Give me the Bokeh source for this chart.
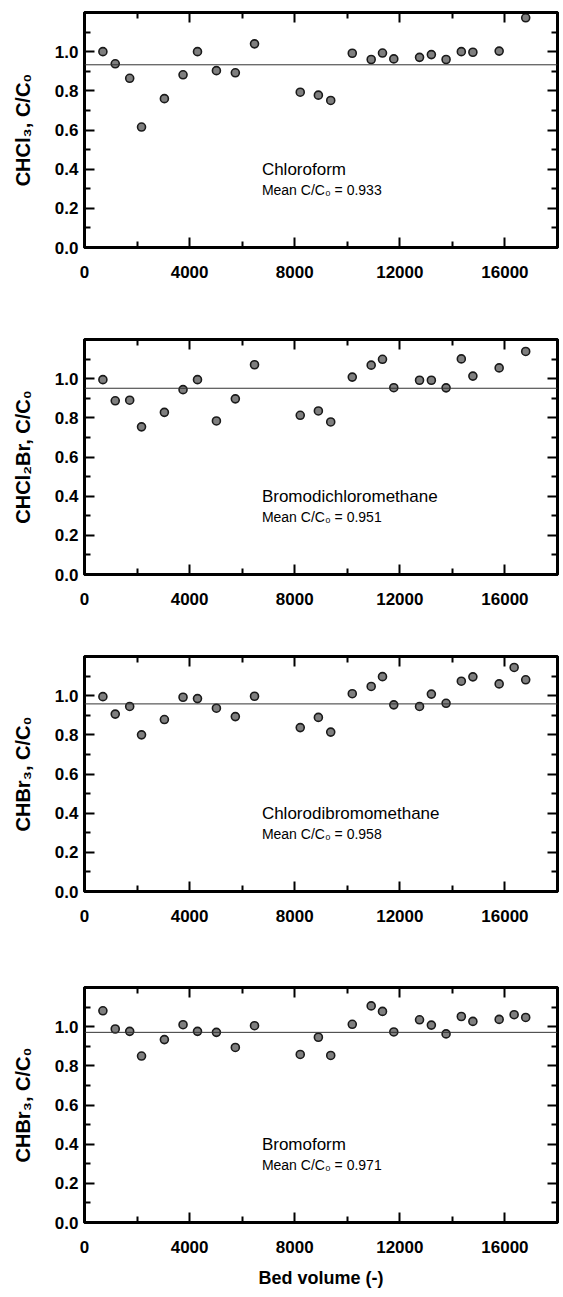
from bokeh.plotting import figure
from bokeh.models import FixedTicker, LinearAxis, Span, Label, Range1d
from bokeh.layouts import column
from bokeh.embed import file_html
from bokeh.resources import INLINE

# ---------------- data ----------------
bv_24 = [700, 1170, 1720, 2170, 3040, 3750, 4300, 5020, 5740, 6470, 8210, 8900,
         9370, 10190, 10910, 11340, 11770, 12750, 13200, 13760, 14340, 14780,
         15780, 16790]
bv_25 = [700, 1170, 1720, 2170, 3040, 3750, 4300, 5020, 5740, 6470, 8210, 8900,
         9370, 10190, 10910, 11340, 11770, 12750, 13200, 13760, 14340, 14780,
         15780, 16350, 16790]

chloroform = [1.00, 0.938, 0.864, 0.615, 0.760, 0.882, 1.00, 0.903, 0.892, 1.040,
              0.793, 0.778, 0.751, 0.992, 0.960, 0.993, 0.963, 0.971, 0.985, 0.960,
              1.00, 0.997, 1.003, 1.173]
bromodichloro = [0.995, 0.887, 0.890, 0.754, 0.828, 0.944, 0.995, 0.784, 0.897, 1.071,
                 0.813, 0.835, 0.779, 1.008, 1.069, 1.099, 0.954, 0.992, 0.992, 0.953,
                 1.101, 1.013, 1.055, 1.139]
chlorodibromo = [0.995, 0.906, 0.945, 0.800, 0.878, 0.992, 0.985, 0.936, 0.893, 0.997,
                 0.837, 0.889, 0.814, 1.010, 1.047, 1.097, 0.953, 0.945, 1.008, 0.961,
                 1.074, 1.096, 1.060, 1.144, 1.081]
bromoform = [1.081, 0.988, 0.976, 0.850, 0.934, 1.010, 0.976, 0.971, 0.894, 1.005,
             0.858, 0.946, 0.853, 1.012, 1.106, 1.078, 0.973, 1.035, 1.008, 0.963,
             1.052, 1.027, 1.037, 1.061, 1.047]

compound_names = ["Chloroform", "Bromodichloromethane", "Chlorodibromomethane", "Bromoform"]
y_labels = ["CHCl\u2083, C/C\u2080", "CHCl\u2082Br, C/C\u2080", "CHBr\u2083, C/C\u2080", "CHBr\u2083, C/C\u2080"]
mean_values = [0.933, 0.951, 0.958, 0.971]

x_ticks = [0, 4000, 8000, 12000, 16000]
x_minor = [2000, 6000, 10000, 14000, 18000]
y_ticks = [0.0, 0.2, 0.4, 0.6, 0.8, 1.0]
y_tick_labels = ["0.0", "0.2", "0.4", "0.6", "0.8", "1.0"]
y_minor = [0.1, 0.3, 0.5, 0.7, 0.9, 1.1]
x_label = "Bed volume (-)"

FONT = "Liberation Sans"


def style_axis(ax, labels):
    ax.axis_line_width = 3
    ax.axis_line_color = "black"
    ax.major_tick_in = 10
    ax.major_tick_out = 0
    ax.minor_tick_in = 6
    ax.minor_tick_out = 0
    ax.major_tick_line_width = 2
    ax.minor_tick_line_width = 2
    ax.major_tick_line_color = "black"
    ax.minor_tick_line_color = "black"
    if labels:
        ax.major_label_text_font = FONT
        ax.major_label_text_font_style = "bold"
        ax.major_label_text_font_size = "17px"
        ax.major_label_text_color = "black"
    else:
        ax.major_label_text_color = None
        ax.major_label_text_font_size = "0px"
        ax.major_label_standoff = 0


def make_panel(xs, ys, name, ylab, mean, height, btop, bbot, show_xlabel):
    p = figure(width=560, height=height, x_range=Range1d(0, 18000), y_range=Range1d(0, 1.2),
               output_backend="svg", toolbar_location=None,
               min_border_left=84, min_border_right=3, min_border_top=btop, min_border_bottom=bbot)
    p.grid.visible = False
    p.outline_line_color = "black"
    p.outline_line_width = 3
    p.background_fill_color = "white"
    p.border_fill_color = "white"

    p.xaxis.ticker = FixedTicker(ticks=x_ticks, minor_ticks=x_minor)
    p.yaxis.ticker = FixedTicker(ticks=y_ticks, minor_ticks=y_minor)
    style_axis(p.xaxis[0], True)
    style_axis(p.yaxis[0], True)
    p.xaxis.major_label_standoff = 18
    p.yaxis.major_label_standoff = 6
    p.yaxis.major_label_overrides = {t: l for t, l in zip(y_ticks, y_tick_labels)}

    p.yaxis.axis_label = ylab
    p.yaxis.axis_label_text_font = FONT
    p.yaxis.axis_label_text_font_style = "bold"
    p.yaxis.axis_label_text_font_size = "20px"
    p.yaxis.axis_label_standoff = 18
    p.yaxis.axis_label_text_color = "black"

    if show_xlabel:
        p.xaxis.axis_label = x_label
        p.xaxis.axis_label_text_font = FONT
        p.xaxis.axis_label_text_font_style = "bold"
        p.xaxis.axis_label_text_font_size = "18px"
        p.xaxis.axis_label_standoff = 12
        p.xaxis.axis_label_text_color = "black"

    top = LinearAxis(ticker=FixedTicker(ticks=x_ticks, minor_ticks=x_minor))
    style_axis(top, False)
    p.add_layout(top, "above")
    right = LinearAxis(ticker=FixedTicker(ticks=y_ticks, minor_ticks=y_minor))
    style_axis(right, False)
    p.add_layout(right, "right")

    p.add_layout(Span(location=mean, dimension="width", line_color="#333333", line_width=1))

    p.scatter(xs, ys, marker="circle", size=8, fill_color="#7f7f7f",
              line_color="#1a1a1a", line_width=1.6)

    p.add_layout(Label(x=6750, y=0.40, text=name, text_baseline="middle", text_align="left",
                       text_font=FONT, text_font_size="17px", text_color="black"))
    p.add_layout(Label(x=6750, y=0.295, text="Mean C/C\u2080 = %.3f" % mean,
                       text_baseline="middle", text_align="left",
                       text_font=FONT, text_font_size="14px", text_color="black"))
    return p


p1 = make_panel(bv_24, chloroform, compound_names[0], y_labels[0], mean_values[0], 329, 12, 82, False)
p2 = make_panel(bv_24, bromodichloro, compound_names[1], y_labels[1], mean_values[1], 317, 10, 72, False)
p3 = make_panel(bv_25, chlorodibromo, compound_names[2], y_labels[2], mean_values[2], 331, 10, 86, False)
p4 = make_panel(bv_25, bromoform, compound_names[3], y_labels[3], mean_values[3], 316, 10, 71, True)

layout = column(p1, p2, p3, p4, spacing=0)
open("out.html", "w").write(file_html(layout, INLINE))
